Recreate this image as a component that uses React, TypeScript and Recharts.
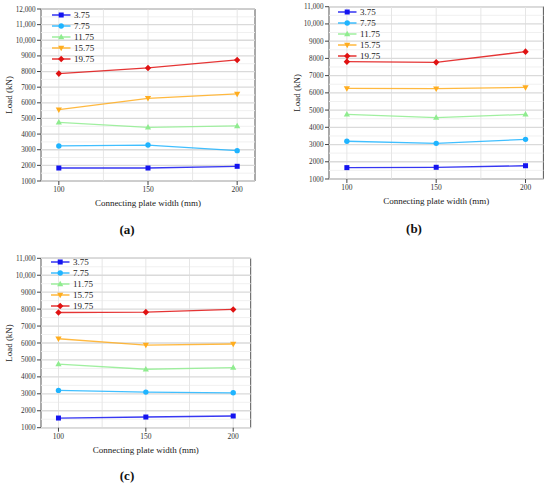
import React from 'react';
import { LineChart, Line, XAxis, YAxis, ReferenceLine, ReferenceArea, Legend, Label } from 'recharts';

// connecting plate widths (mm) and plate thickness series
const widths = [100, 150, 200];
const gridWidths = [100, 125, 150, 175, 200];
const thicknesses = ['3.75', '7.75', '11.75', '15.75', '19.75'];

// load (kN) per thickness, one row per series
const loadsA = [
  [1830, 1830, 1940],
  [3240, 3300, 2940],
  [4750, 4430, 4520],
  [5560, 6290, 6570],
  [7870, 8230, 8740],
];
const loadsB = [
  [1660, 1680, 1770],
  [3190, 3070, 3300],
  [4750, 4560, 4750],
  [6260, 6240, 6320],
  [7810, 7770, 8390],
];
const loadsC = [
  [1570, 1630, 1690],
  [3200, 3100, 3060],
  [4750, 4450, 4550],
  [6250, 5880, 5940],
  [7800, 7820, 7980],
];

const yTicksA = [1000, 2000, 3000, 4000, 5000, 6000, 7000, 8000, 9000, 10000, 11000, 12000];
const yTicksBC = [1000, 2000, 3000, 4000, 5000, 6000, 7000, 8000, 9000, 10000, 11000];

const COLORS = ['#1414f0', '#1fb4ff', '#8fec8f', '#ffad1f', '#e01212'];
const SHAPES = ['square', 'circle', 'up', 'down', 'diamond'];
const FONT = '"Liberation Serif", "Times New Roman", serif';

function Marker({ shape, cx, cy, color }: { shape: string; cx: number; cy: number; color: string }) {
  if (shape === 'square') return <rect x={cx - 2.5} y={cy - 2.5} width={5} height={5} fill={color} />;
  if (shape === 'circle') return <circle cx={cx} cy={cy} r={2.7} fill={color} />;
  if (shape === 'up')
    return <polygon points={`${cx},${cy - 3.3} ${cx + 3.1},${cy + 2.2} ${cx - 3.1},${cy + 2.2}`} fill={color} />;
  if (shape === 'down')
    return <polygon points={`${cx},${cy + 3.3} ${cx + 3.1},${cy - 2.2} ${cx - 3.1},${cy - 2.2}`} fill={color} />;
  return <polygon points={`${cx},${cy - 3.3} ${cx + 3.2},${cy} ${cx},${cy + 3.3} ${cx - 3.2},${cy}`} fill={color} />;
}

const fmt = (v: number) => (v >= 10000 ? v.toLocaleString('en-US') : String(v));

type PanelProps = {
  loads: number[][];
  yTicks: number[];
  left: number;
  top: number;
  width: number;
  height: number;
  marginTop: number;
  legendX: number;
  legendY: number;
};

function Panel({ loads, yTicks, left, top, width, height, marginTop, legendX, legendY }: PanelProps) {
  const data = widths.map((w, i) => {
    const row: Record<string, number> = { width: w };
    loads.forEach((s, k) => (row[`s${k}`] = s[i]));
    return row;
  });
  const yMax = yTicks[yTicks.length - 1];
  const minor = yTicks.slice(0, -1).map((v) => v + 500);

  const legendContent = () => (
    <svg width={80} height={62} style={{ display: 'block' }}>
      {thicknesses.map((t, i) => {
        const y = 6 + i * 11;
        return (
          <g key={t}>
            <line x1={2} x2={20.5} y1={y} y2={y} stroke={COLORS[i]} strokeWidth={1.3} />
            <Marker shape={SHAPES[i]} cx={11.2} cy={y} color={COLORS[i]} />
            <text x={24} y={y} dominantBaseline="central" fontSize={9} fontFamily={FONT} fill="#222">
              {t}
            </text>
          </g>
        );
      })}
    </svg>
  );

  return (
    <div style={{ position: 'absolute', left, top }}>
      <LineChart width={width} height={height} data={data} margin={{ top: marginTop, right: 10, left: 0, bottom: 0 }}>
        {minor.map((v) => (
          <ReferenceLine key={`m${v}`} y={v} stroke="#f0f0f0" strokeWidth={1} />
        ))}
        {gridWidths.map((v) => (
          <ReferenceLine key={`v${v}`} x={v} stroke="#e6e6e6" strokeWidth={1} />
        ))}
        {yTicks.map((v) => (
          <ReferenceLine key={`h${v}`} y={v} stroke="#dadada" strokeWidth={1.3} />
        ))}
        <XAxis
          type="number"
          dataKey="width"
          domain={[90, 210]}
          ticks={widths}
          height={34}
          axisLine={false}
          tickSize={4}
          tickMargin={2}
          tickLine={{ stroke: '#444' }}
          tick={{ fontSize: 7.5, fontFamily: FONT, fill: '#333' }}
        >
          <Label
            content={({ viewBox }: any) => (
              <text
                x={viewBox.x + viewBox.width / 2}
                y={viewBox.y + 22}
                textAnchor="middle"
                dominantBaseline="central"
                fontSize={9}
                fontFamily={FONT}
                fill="#222"
              >
                Connecting plate width (mm)
              </text>
            )}
          />
        </XAxis>
        <YAxis
          type="number"
          domain={[1000, yMax]}
          ticks={yTicks}
          width={41}
          axisLine={false}
          tickSize={4}
          tickMargin={1.5}
          tickLine={{ stroke: '#444' }}
          tickFormatter={fmt}
          tick={{ fontSize: 7.2, fontFamily: FONT, fill: '#333' }}
          interval={0}
        >
          <Label
            content={({ viewBox }: any) => {
              const x = viewBox.x + 9.3;
              const y = viewBox.y + viewBox.height / 2;
              return (
                <text
                  x={x}
                  y={y}
                  transform={`rotate(-90 ${x} ${y})`}
                  textAnchor="middle"
                  dominantBaseline="central"
                  fontSize={9}
                  fontFamily={FONT}
                  fill="#222"
                >
                  Load (kN)
                </text>
              );
            }}
          />
        </YAxis>
        <ReferenceArea x1={90} x2={210} y1={1000} y2={yMax} fill="none" stroke="#555" strokeWidth={1} />
        {thicknesses.map((t, k) => (
          <Line
            key={t}
            dataKey={`s${k}`}
            name={t}
            stroke={COLORS[k]}
            strokeWidth={1.3}
            strokeOpacity={0.85}
            isAnimationActive={false}
            dot={(p: any) => (
              <g key={`${t}-${p.index}`}>
                <Marker shape={SHAPES[k]} cx={p.cx} cy={p.cy} color={COLORS[k]} />
              </g>
            )}
          />
        ))}
        <Legend
          layout="vertical"
          align="center"
          verticalAlign="middle"
          content={legendContent}
          wrapperStyle={{ left: legendX - 2, top: legendY - 6, bottom: 'auto', width: 80, height: 62 }}
        />
      </LineChart>
    </div>
  );
}

const captionStyle = (x: number, y: number): React.CSSProperties => ({
  position: 'absolute',
  left: x - 20,
  top: y - 9,
  width: 40,
  height: 18,
  lineHeight: '18px',
  textAlign: 'center',
  fontFamily: FONT,
  fontWeight: 'bold',
  fontSize: 13,
  color: '#111',
});

export default function App() {
  return (
    <div style={{ position: 'absolute', left: 0, top: 0, width: 550, height: 489, background: '#fff', overflow: 'hidden' }}>
      <Panel loads={loadsA} yTicks={yTicksA} left={0} top={0} width={265} height={215} marginTop={9} legendX={51.7} legendY={14.7} />
      <Panel loads={loadsB} yTicks={yTicksBC} left={288.3} top={0} width={265.4} height={213} marginTop={6.7} legendX={49.7} legendY={11.7} />
      <Panel loads={loadsC} yTicks={yTicksBC} left={0} top={245} width={260.7} height={216.7} marginTop={13.3} legendX={50.7} legendY={16.7} />
      <div style={captionStyle(127, 230)}>(a)</div>
      <div style={captionStyle(414, 229)}>(b)</div>
      <div style={captionStyle(127, 476)}>(c)</div>
    </div>
  );
}
